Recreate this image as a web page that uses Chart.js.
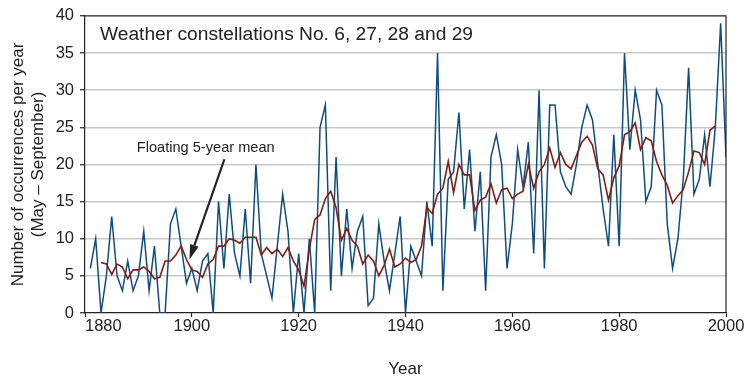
<!DOCTYPE html>
<html><head><meta charset="utf-8">
<script src="https://cdn.jsdelivr.net/npm/chart.js@4.4.1/dist/chart.umd.min.js"></script>
<style>html,body{margin:0;padding:0;background:#fff;}#wrap{width:748px;height:380px;}</style>
</head><body><div id="wrap"><canvas id="c" width="748" height="380"></canvas></div>
<script>
const years = [1881,1882,1883,1884,1885,1886,1887,1888,1889,1890,
1891,1892,1893,1894,1895,1896,1897,1898,1899,1900,
1901,1902,1903,1904,1905,1906,1907,1908,1909,1910,
1911,1912,1913,1914,1915,1916,1917,1918,1919,1920,
1921,1922,1923,1924,1925,1926,1927,1928,1929,1930,
1931,1932,1933,1934,1935,1936,1937,1938,1939,1940,
1941,1942,1943,1944,1945,1946,1947,1948,1949,1950,
1951,1952,1953,1954,1955,1956,1957,1958,1959,1960,
1961,1962,1963,1964,1965,1966,1967,1968,1969,1970,
1971,1972,1973,1974,1975,1976,1977,1978,1979,1980,
1981,1982,1983,1984,1985,1986,1987,1988,1989,1990,
1991,1992,1993,1994,1995,1996,1997,1998,1999,2000];
const occurrences = [6,10,0,5,13,5,3,7,3,5,
11,3,9,0,0,12,14,9,4,6,
3,7,8,0,15,6,16,8,5,14,
4,20,8,5,2,9,16,11,0,8,
0,10,0,25,28,3,21,5,14,6,
11,13,1,2,12,7,3,8,13,0,
9,7,5,15,9,35,3,18,19,27,
14,22,11,19,3,21,24,20,6,12,
22,17,23,8,30,6,28,28,19,17,
16,20,25,28,26,20,14,9,24,9,
35,22,30,26,15,17,30,28,12,6,
10,18,33,16,18,24,17,25,39,21];
const floatingMean = [null,null,6.8,6.6,5.2,6.6,6.2,4.6,5.8,5.8,
6.2,5.6,4.6,4.8,7.0,7.0,7.8,9.0,7.2,5.8,
5.6,4.8,6.6,7.2,9.0,9.0,10.0,9.8,9.4,10.2,
10.2,10.2,7.8,8.8,8.0,8.6,7.6,8.8,7.0,5.8,
3.6,8.6,12.6,13.2,15.4,16.4,14.2,9.8,11.4,9.8,
9.0,6.6,7.8,7.0,5.0,6.4,8.6,6.2,6.6,7.4,
6.8,7.2,9.0,14.2,13.4,16.0,16.8,20.4,16.2,20.0,
18.6,18.6,13.8,15.2,15.6,17.4,14.8,16.6,16.8,15.4,
16.0,16.4,20.0,16.8,19.0,20.0,22.2,19.6,21.6,20.0,
19.4,21.2,23.0,23.8,22.6,19.4,18.6,15.2,18.2,19.8,
24.0,24.4,25.6,22.0,23.6,23.2,20.4,18.6,17.2,14.8,
15.8,16.6,19.0,21.8,21.6,20.0,24.6,25.2,null,null];
const xTickValues = [1880,1900,1920,1940,1960,1980,2000];
const yTickValues = [0,5,10,15,20,25,30,35,40];
const chartTitle = 'Weather constellations No. 6, 27, 28 and 29';
const meanLabel = 'Floating 5-year mean';
const xAxisTitle = 'Year';
const yAxisTitle = ['Number of occurrences per year', '(May \u2013 September)'];

const FONT = "'Liberation Sans', Arial, Helvetica, sans-serif";
const INK = '#222222';

const decorPlugin = {
  id: 'decor',
  beforeDraw(chart) {
    const items = chart.scales.x.getLabelItems();
    if (items && items.length) {
      items[0].options.textAlign = 'left';
    }
  },
  afterDatasetsDraw(chart) {
    const {ctx, chartArea: a, scales: {x, y}} = chart;
    ctx.save();
    ctx.strokeStyle = INK; ctx.lineWidth = 1.2;
    ctx.beginPath();
    ctx.moveTo(a.left, a.top); ctx.lineTo(a.right, a.top); ctx.lineTo(a.right, a.bottom);
    ctx.stroke();
    ctx.fillStyle = INK;
    ctx.font = '19.2px ' + FONT;
    ctx.textBaseline = 'middle'; ctx.textAlign = 'left';
    ctx.fillText(chartTitle, a.left + 15, a.top + 19);
    ctx.font = '14.6px ' + FONT;
    ctx.textAlign = 'center';
    ctx.fillText(meanLabel, x.getPixelForValue(1902.6), y.getPixelForValue(22.2));
    const x0 = x.getPixelForValue(1906.1), y0 = y.getPixelForValue(20.7);
    const x1 = x.getPixelForValue(1899.55), y1 = y.getPixelForValue(7.2);
    const ang = Math.atan2(y1 - y0, x1 - x0);
    const hl = 15, hw = 4.5;
    const bx = x1 - hl * Math.cos(ang), by = y1 - hl * Math.sin(ang);
    ctx.strokeStyle = INK; ctx.lineWidth = 2.2;
    ctx.beginPath(); ctx.moveTo(x0, y0); ctx.lineTo(bx, by); ctx.stroke();
    ctx.beginPath();
    ctx.moveTo(x1, y1);
    ctx.lineTo(bx + hw * Math.sin(ang), by - hw * Math.cos(ang));
    ctx.lineTo(bx - hw * Math.sin(ang), by + hw * Math.cos(ang));
    ctx.closePath(); ctx.fill();
    ctx.restore();
  }
};

new Chart(document.getElementById('c'), {
  type: 'line',
  data: {
    datasets: [
      {
        label: meanLabel,
        data: years.map((yr, i) => ({x: yr, y: floatingMean[i]})),
        borderColor: '#7f1e14', borderWidth: 1.6, pointRadius: 0, tension: 0, fill: false
      },
      {
        label: 'Occurrences',
        data: years.map((yr, i) => ({x: yr, y: occurrences[i]})),
        borderColor: '#0f4d80', borderWidth: 1.5, pointRadius: 0, tension: 0, fill: false
      }
    ]
  },
  options: {
    responsive: false, animation: false, devicePixelRatio: 1,
    layout: {padding: {top: 14, right: 22, left: 0, bottom: 0}},
    plugins: {legend: {display: false}, tooltip: {enabled: false}, title: {display: false}},
    scales: {
      x: {
        type: 'linear', min: 1880, max: 2000,
        afterBuildTicks: s => { s.ticks = xTickValues.map(v => ({value: v})); },
        afterFit: s => { s.height = 67; },
        ticks: {font: {family: FONT, size: 16.5}, color: INK, padding: 0, maxRotation: 0, autoSkip: false,
                callback: v => String(v)},
        grid: {drawOnChartArea: false, drawTicks: true, tickLength: 4, tickColor: INK, tickWidth: 1.2},
        border: {display: true, color: INK, width: 1.2},
        title: {display: true, text: xAxisTitle, color: INK, font: {family: FONT, size: 17}, padding: {top: 0, bottom: 0}}
      },
      y: {
        type: 'linear', min: 0, max: 40,
        afterBuildTicks: s => { s.ticks = yTickValues.map(v => ({value: v})); },
        afterFit: s => { s.width = 85; },
        ticks: {font: {family: FONT, size: 16.5}, color: INK, padding: 6, callback: v => String(v)},
        grid: {
          color: c => (c.tick && (c.tick.value === 0 || c.tick.value === 40)) ? 'rgba(0,0,0,0)' : '#c8c8c8',
          lineWidth: 1.5, drawTicks: true, tickLength: 5, tickColor: INK, tickWidth: 1.2
        },
        border: {display: true, color: INK, width: 1.2},
        title: {display: true, text: yAxisTitle, color: INK, font: {family: FONT, size: 17}, padding: {top: 8, bottom: 0}}
      }
    }
  },
  plugins: [decorPlugin]
});
</script></body></html>
